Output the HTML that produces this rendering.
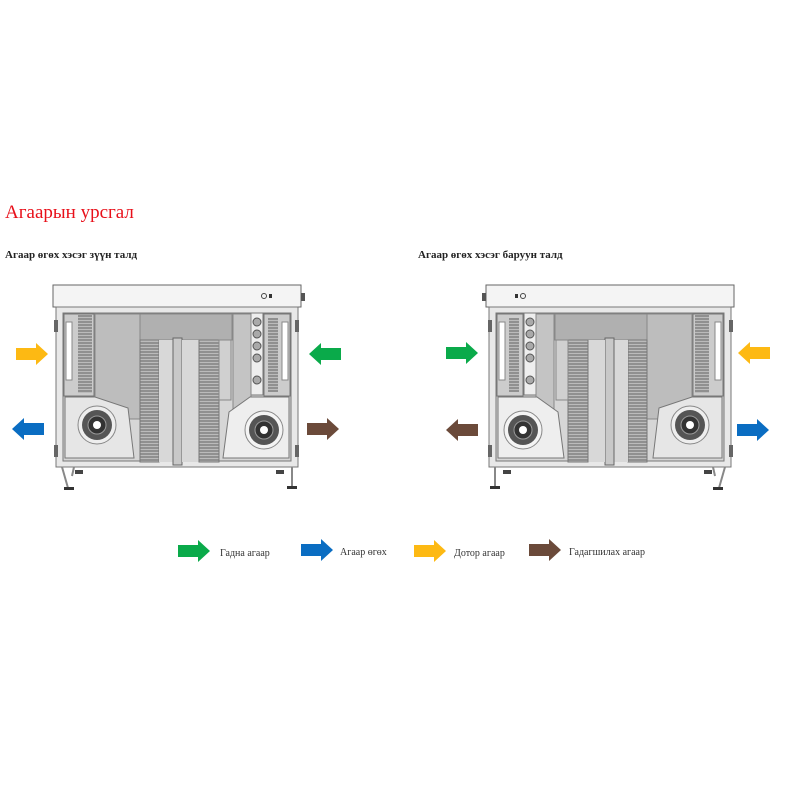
<!DOCTYPE html>
<html><head><meta charset="utf-8"><style>
body{margin:0;background:#fff;width:800px;height:800px;overflow:hidden;font-family:"Liberation Serif",serif}
</style></head><body>
<svg width="800" height="800" viewBox="0 0 800 800" xmlns="http://www.w3.org/2000/svg">
<defs>
<pattern id="hatch" width="3" height="3" patternUnits="userSpaceOnUse"><rect width="3" height="3" fill="#bbb"/><line x1="0" y1="1" x2="3" y2="1" stroke="#666" stroke-width="1"/></pattern>
<g id="unit">
  <!-- top box -->
  <rect x="53" y="285" width="248" height="22" fill="#f4f4f4" stroke="#666"/>
  <circle cx="264" cy="296" r="2.5" fill="none" stroke="#444"/><rect x="269" y="294" width="3" height="4" fill="#333"/>
  <rect x="301" y="293" width="4" height="8" fill="#555"/>
  <!-- body frame -->
  <rect x="56" y="307" width="242" height="160" fill="#e8e8e8" stroke="#777"/>
  <rect x="63" y="313" width="228" height="148" fill="#d6d6d6" stroke="#777"/>
  <!-- left filter -->
  <rect x="64" y="314" width="30" height="82" fill="#ccc" stroke="#777"/>
  <rect x="66" y="322" width="6" height="58" fill="#fff" stroke="#888"/>
  <rect x="78" y="315" width="14" height="78" fill="url(#hatch)"/>
  <!-- panels -->
  <rect x="95" y="314" width="45" height="105" fill="#bdbdbd" stroke="#888"/>
  <rect x="140" y="314" width="92" height="26" fill="#b0b0b0" stroke="#888"/>
  <rect x="140" y="340" width="19" height="122" fill="url(#hatch)" stroke="#777"/>
  <rect x="159" y="340" width="15" height="122" fill="#d8d8d8"/>
  <rect x="173" y="338" width="9" height="127" fill="#c8c8c8" stroke="#666"/>
  <rect x="182" y="340" width="17" height="122" fill="#d8d8d8"/>
  <rect x="199" y="340" width="20" height="122" fill="url(#hatch)" stroke="#777"/>
  <rect x="219" y="340" width="12" height="60" fill="#d0d0d0" stroke="#888"/>
  <!-- filter column with circles -->
  <rect x="251" y="313" width="12" height="82" fill="#eee" stroke="#777"/>
  <circle cx="257" cy="322" r="4" fill="#aaa" stroke="#555"/>
  <circle cx="257" cy="334" r="4" fill="#aaa" stroke="#555"/>
  <circle cx="257" cy="346" r="4" fill="#aaa" stroke="#555"/>
  <circle cx="257" cy="358" r="4" fill="#aaa" stroke="#555"/>
  <circle cx="257" cy="380" r="4" fill="#aaa" stroke="#555"/>
  <rect x="264" y="314" width="26" height="82" fill="#ccc" stroke="#777"/>
  <rect x="268" y="318" width="10" height="74" fill="url(#hatch)"/>
  <rect x="282" y="322" width="6" height="58" fill="#fff" stroke="#888"/>
  <rect x="233" y="314" width="18" height="105" fill="#c4c4c4" stroke="#888"/>
  <!-- fan boxes -->
  <path d="M65 397 L95 397 L128 408 L134 458 L65 458 Z" fill="#e6e6e6" stroke="#777"/>
  <circle cx="97" cy="425" r="19" fill="#eee" stroke="#888"/>
  <circle cx="97" cy="425" r="15" fill="#555"/>
  <circle cx="97" cy="425" r="9" fill="#333" stroke="#999"/>
  <circle cx="97" cy="425" r="4" fill="#fff"/>
  <path d="M289 397 L250 397 L229 412 L223 458 L289 458 Z" fill="#eee" stroke="#777"/>
  <circle cx="264" cy="430" r="19" fill="#f4f4f4" stroke="#888"/>
  <circle cx="264" cy="430" r="15" fill="#555"/>
  <circle cx="264" cy="430" r="9" fill="#333" stroke="#999"/>
  <circle cx="264" cy="430" r="4" fill="#fff"/>
  <!-- door latches -->
  <rect x="54" y="320" width="4" height="12" fill="#666"/>
  <rect x="54" y="445" width="4" height="12" fill="#666"/>
  <rect x="295" y="320" width="4" height="12" fill="#666"/>
  <rect x="295" y="445" width="4" height="12" fill="#666"/>
  <!-- legs -->
  <path d="M62 467 L68 488 M74 467 L72 476" stroke="#888" stroke-width="2"/>
  <rect x="64" y="487" width="10" height="3" fill="#333"/>
  <rect x="75" y="470" width="8" height="4" fill="#444"/>
  <path d="M292 467 L292 488" stroke="#888" stroke-width="2"/>
  <rect x="287" y="486" width="10" height="3" fill="#333"/>
  <rect x="276" y="470" width="8" height="4" fill="#444"/>
</g>
<g id="ar"><polygon points="0,-6 20,-6 20,-11 32,0 20,11 20,6 0,6"/></g>
</defs>

<text x="5" y="218" font-size="19" fill="#e8101a" font-family="Liberation Serif,serif">Агаарын урсгал</text>
<text x="5" y="258" font-size="11" font-weight="bold" fill="#222">Агаар өгөх хэсэг зүүн талд</text>
<text x="418" y="258" font-size="11" font-weight="bold" fill="#222">Агаар өгөх хэсэг баруун талд</text>

<use href="#unit"/>
<g transform="translate(787,0) scale(-1,1)"><use href="#unit"/></g>

<!-- left unit arrows -->
<use href="#ar" transform="translate(16,354)" fill="#fdb913"/>
<use href="#ar" transform="translate(44,429) scale(-1,1)" fill="#0a6dc2"/>
<use href="#ar" transform="translate(341,354) scale(-1,1)" fill="#0aaa4a"/>
<use href="#ar" transform="translate(307,429)" fill="#6b4a3a"/>
<!-- right unit arrows -->
<use href="#ar" transform="translate(446,353)" fill="#0aaa4a"/>
<use href="#ar" transform="translate(478,430) scale(-1,1)" fill="#6b4a3a"/>
<use href="#ar" transform="translate(770,353) scale(-1,1)" fill="#fdb913"/>
<use href="#ar" transform="translate(737,430)" fill="#0a6dc2"/>

<!-- legend -->
<use href="#ar" transform="translate(178,551)" fill="#0aaa4a"/>
<text x="220" y="556" font-size="10" fill="#333">Гадна агаар</text>
<use href="#ar" transform="translate(301,550)" fill="#0a6dc2"/>
<text x="340" y="555" font-size="10" fill="#333">Агаар өгөх</text>
<use href="#ar" transform="translate(414,551)" fill="#fdb913"/>
<text x="454" y="556" font-size="10" fill="#333">Дотор агаар</text>
<use href="#ar" transform="translate(529,550)" fill="#6b4a3a"/>
<text x="569" y="555" font-size="10" fill="#333">Гадагшилах агаар</text>
</svg>
</body></html>
